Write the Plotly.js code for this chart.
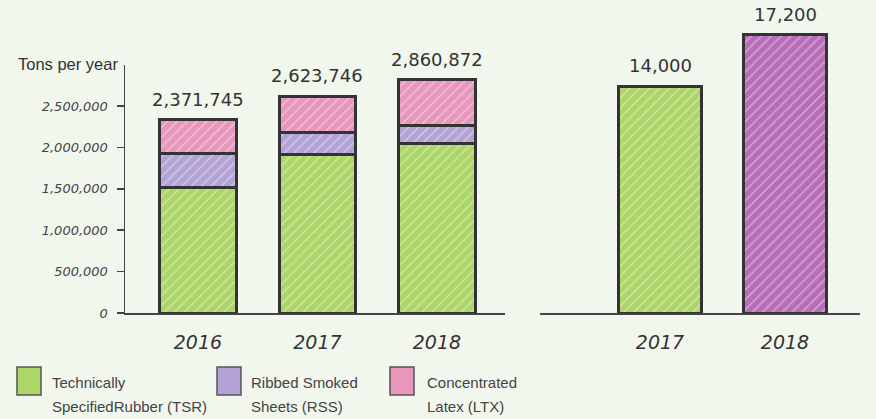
<!DOCTYPE html>
<html>
<head>
<meta charset="utf-8">
<script src="https://cdn.plot.ly/plotly-3.0.1.min.js"></script>
<style>
html,body{margin:0;padding:0;background:#f2f7ed;}
#chart{width:876px;height:419px;}
</style>
</head>
<body>
<div id="chart"></div>
<script>
// ---- data ----
const years = ['2016', '2017', '2018'];
const tsr = [1510000, 1910000, 2050000];
const rss = [422000, 276000, 220000];
const ltx = [400000, 434000, 545000];
const totalLabels = ['2,371,745', '2,623,746', '2,860,872'];

const years2 = ['2017', '2018'];
const values2 = [14000, 17200];
const labels2 = ['14,000', '17,200'];

const seriesNames = ['Technically<br>SpecifiedRubber (TSR)', 'Ribbed Smoked<br>Sheets (RSS)', 'Concentrated<br>Latex (LTX)'];
const seriesColors = ['#add567', '#b3a2d6', '#e896bc'];
const rightColors = ['#add567', '#b86db9'];

// ---- styling ----
const W = 876, H = 419;
const px = x => x / W;
const py = y => (H - y) / H;
const bg = '#f2f7ed';
const edge = '#333333';
function pat(color) {
  return {shape: '/', bgcolor: color, fgcolor: '#ffffff', fgopacity: 0.4, size: 7, solidity: 0.22};
}

function stackTrace(name, vals, color) {
  return {
    type: 'bar', x: years, y: vals, name: name, xaxis: 'x', yaxis: 'y',
    width: 0.64, showlegend: false, hoverinfo: 'skip',
    marker: {color: color, line: {color: edge, width: 3}, pattern: pat(color)}
  };
}

const traces = [
  stackTrace(seriesNames[0], tsr, seriesColors[0]),
  stackTrace(seriesNames[1], rss, seriesColors[1]),
  stackTrace(seriesNames[2], ltx, seriesColors[2])
];
years2.forEach((yr, i) => {
  traces.push({
    type: 'bar', x: [yr], y: [values2[i]], xaxis: 'x2', yaxis: 'y2', width: 0.66,
    showlegend: false, hoverinfo: 'skip',
    marker: {color: rightColors[i], line: {color: edge, width: 3}, pattern: pat(rightColors[i])}
  });
});

const annotations = [];
years.forEach((yr, i) => {
  annotations.push({
    x: i, y: tsr[i] + rss[i] + ltx[i], xref: 'x', yref: 'y', text: totalLabels[i],
    showarrow: false, yanchor: 'bottom', yshift: 8,
    font: {family: 'DejaVu Sans', size: 18, color: '#333'}
  });
});
years2.forEach((yr, i) => {
  annotations.push({
    x: i, y: values2[i], xref: 'x2', yref: 'y2', text: labels2[i],
    showarrow: false, yanchor: 'bottom', yshift: 8,
    font: {family: 'DejaVu Sans', size: 18, color: '#333'}
  });
});
annotations.push({
  x: px(120), y: py(64), xref: 'paper', yref: 'paper', xanchor: 'right', yanchor: 'middle',
  text: 'Tons per year', showarrow: false,
  font: {family: 'Liberation Sans, Arial, sans-serif', size: 16.5, color: '#333'}
});

// custom legend
const legendBoxX = [17, 217, 390];
const legendTextX = [50, 249, 425];
const shapes = [];
seriesNames.forEach((n, i) => {
  shapes.push({
    type: 'rect', xref: 'paper', yref: 'paper',
    x0: px(legendBoxX[i]), x1: px(legendBoxX[i] + 24), y0: py(395), y1: py(367),
    fillcolor: seriesColors[i], line: {color: '#555', width: 1.5}
  });
  n.split('<br>').forEach((line, j) => {
    annotations.push({
      x: px(legendTextX[i]), y: py(382 + 24 * j), xref: 'paper', yref: 'paper',
      xanchor: 'left', yanchor: 'middle', align: 'left', text: line, showarrow: false,
      font: {family: 'Liberation Sans, Arial, sans-serif', size: 15, color: '#444'}
    });
  });
});

const yearFont = {family: 'DejaVu Sans', size: 19, color: '#333', style: 'italic'};

const layout = {
  width: W, height: H,
  margin: {l: 0, r: 0, t: 0, b: 0, pad: 0},
  paper_bgcolor: bg, plot_bgcolor: 'rgba(0,0,0,0)',
  barmode: 'stack', showlegend: false,
  xaxis: {
    domain: [px(125), px(505)], range: [-0.61, 2.57], type: 'category',
    showline: true, linecolor: '#444', linewidth: 1.5, showgrid: false, zeroline: false,
    ticks: '', tickfont: yearFont, ticklabelstandoff: 12
  },
  yaxis: {
    domain: [py(313), py(64.6)], range: [0, 3000000], anchor: 'x',
    showline: true, linecolor: '#444', linewidth: 1.5, showgrid: false, zeroline: false,
    tickvals: [0, 500000, 1000000, 1500000, 2000000, 2500000],
    ticktext: ['0', '500,000', '1,000,000', '1,500,000', '2,000,000', '2,500,000'],
    ticks: 'outside', ticklen: 7, tickwidth: 1.5, tickcolor: '#444',
    tickfont: {family: 'DejaVu Sans', size: 13, color: '#444', style: 'italic'},
    ticklabelstandoff: 6
  },
  xaxis2: {
    domain: [px(540), px(860)], range: [-0.96, 1.6], type: 'category', anchor: 'y2',
    showline: true, linecolor: '#444', linewidth: 1.5, showgrid: false, zeroline: false,
    ticks: '', tickfont: yearFont, ticklabelstandoff: 12
  },
  yaxis2: {
    domain: [py(313), 1], range: [0, 19340], anchor: 'x2',
    visible: false, showgrid: false, zeroline: false
  },
  annotations: annotations,
  shapes: shapes
};

Plotly.newPlot('chart', traces, layout, {displayModeBar: false, staticPlot: true});
</script>
</body>
</html>
